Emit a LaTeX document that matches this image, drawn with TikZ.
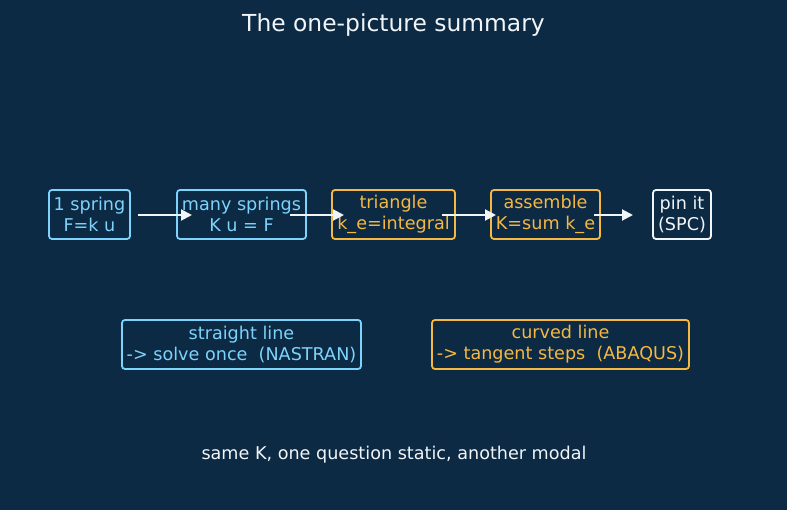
\documentclass[tikz,border=0pt]{standalone}
\usepackage{fontspec}
\setmainfont{DejaVu Sans}
\usetikzlibrary{arrows.meta}
\definecolor{bg}{HTML}{0C2A44}
\definecolor{sky}{HTML}{7DD3FC}
\definecolor{amber}{HTML}{F5B841}
\definecolor{offw}{HTML}{F2F5F8}
\tikzset{
  box/.style={draw, rounded corners=3pt, line width=1.8pt, inner sep=0pt, align=center,
    font=\fontsize{17.6}{21}\selectfont, minimum height=49pt},
  bluebox/.style={box, draw=sky, text=sky},
  amberbox/.style={box, draw=amber, text=amber},
  whitebox/.style={box, draw=offw, text=offw},
  flow/.style={draw=offw, line width=2pt, -{Triangle[length=11pt,width=11pt]}},
}
\begin{document}
\begin{tikzpicture}[x=1pt,y=-1pt]
\fill[bg] (0,0) rectangle (787,510);
\useasboundingbox (0,0) rectangle (787,510);
\node[text=offw, font=\fontsize{23.4}{26}\selectfont] (title) at (393.5,25) {The one-picture summary};
\node[bluebox, minimum width=81pt] (b1) at (89.5,214.5) {1 spring\\F=k u};
\node[bluebox, minimum width=129pt] (b2) at (241.5,214.5) {many springs\\K u = F};
\node[amberbox, minimum width=123pt] (b3) at (393.5,214.5) {triangle\\k\_e=integral};
\node[amberbox, minimum width=109pt] (b4) at (545.5,214.5) {assemble\\K=sum k\_e};
\node[whitebox, minimum width=58pt] (b5) at (682,214.5) {pin it\\(SPC)};
\node[bluebox, minimum width=239pt] (b6) at (241.5,344.5) {straight line\\-> solve once\ \ (NASTRAN)};
\node[amberbox, minimum width=257pt] (b7) at (560.5,344.5) {curved line\\-> tangent steps\ \ (ABAQUS)};
\node[text=offw, font=\fontsize{17.6}{21}\selectfont] (foot) at (394,455) {same K, one question static, another modal};
\coordinate (a1s) at (138,215); \coordinate (a1e) at (192,215);
\coordinate (a2s) at (290,215); \coordinate (a2e) at (344,215);
\coordinate (a3s) at (442,215); \coordinate (a3e) at (496,215);
\coordinate (a4s) at (594,215); \coordinate (a4e) at (633,215);
\draw[flow] (a1s) -- (a1e);
\draw[flow] (a2s) -- (a2e);
\draw[flow] (a3s) -- (a3e);
\draw[flow] (a4s) -- (a4e);
\end{tikzpicture}
\end{document}
